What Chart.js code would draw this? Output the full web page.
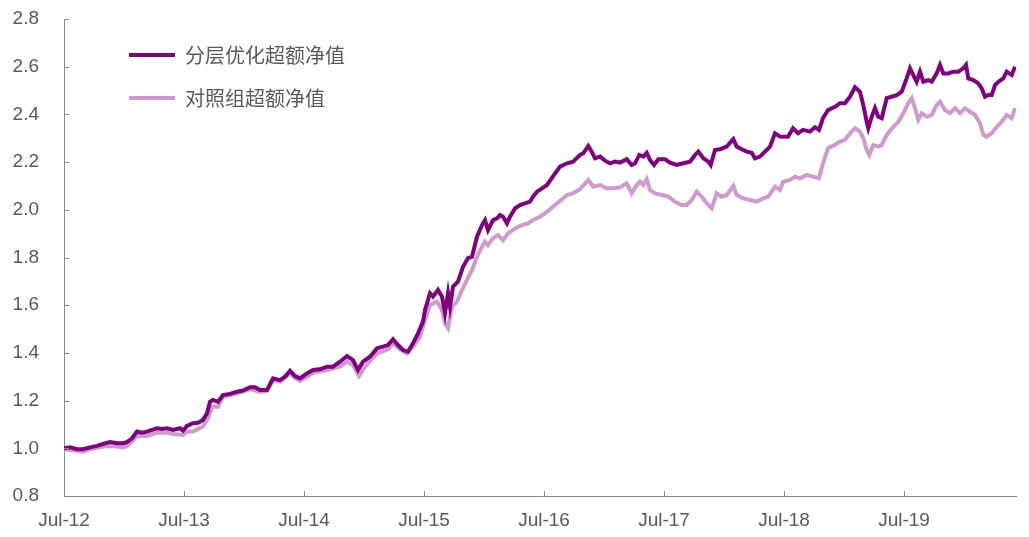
<!DOCTYPE html>
<html>
<head>
<meta charset="utf-8">
<script src="https://cdn.jsdelivr.net/npm/chart.js@4/dist/chart.umd.min.js"></script>
<style>
  html, body { margin: 0; padding: 0; background: #fff; }
  #wrap { width: 1029px; height: 537px; }
</style>
</head>
<body>
<div id="wrap"><canvas id="navChart" width="1029" height="537"></canvas></div>
<script>
// 月份偏移 (0 = 2012年7月), 净值
var seriesNames = ['分层优化超额净值', '对照组超额净值'];
var tickLabels = ['Jul-12', 'Jul-13', 'Jul-14', 'Jul-15', 'Jul-16', 'Jul-17', 'Jul-18', 'Jul-19'];

var darkMonths = [0,0.6,1.3,1.9,2.6,3.3,3.9,4.6,5.3,5.9,6.3,6.8,7.3,7.8,8.3,8.8,9.3,9.8,10.3,10.9,11.6,11.9,12.3,12.9,13.4,13.9,14.3,14.6,14.9,15.4,15.9,16.6,17.3,17.9,18.6,19.1,19.6,20.3,20.9,21.6,22.1,22.6,23.1,23.6,24.3,24.9,25.6,26.3,26.9,27.6,28.3,28.9,29.4,29.9,30.6,31.3,31.9,32.4,32.9,33.4,33.9,34.4,34.9,35.4,35.9,36.1,36.6,36.9,37.4,37.8,38.1,38.4,38.6,38.9,39.4,39.9,40.4,40.8,41.3,41.8,42.1,42.4,42.9,43.3,43.6,43.9,44.3,44.6,45.1,45.6,46.1,46.6,46.9,47.3,47.8,48.3,48.9,49.6,50.3,50.9,
    51.6,51.93,52.43,52.77,53.1,53.6,54.1,54.6,55.1,55.6,56.27,56.77,57.1,57.53,57.93,58.27,58.6,59.0,59.43,60.1,60.6,61.27,61.93,62.6,63.1,63.43,63.93,64.43,64.67,65.1,65.6,66.27,66.93,67.27,67.77,68.27,68.77,69.1,69.6,70.1,70.6,71.1,71.6,
    72.4,72.9,73.4,73.9,74.6,75.1,75.5,75.9,76.4,77.1,77.6,78.1,78.6,79.1,
    79.6,79.93,80.27,80.43,80.77,81.1,81.43,81.77,82.27,82.77,83.27,83.77,84.27,84.6,84.93,85.27,85.6,85.93,86.43,86.77,87.27,87.6,87.93,88.43,88.93,89.43,89.93,90.2,90.43,90.93,91.43,91.77,92.1,92.43,92.77,93.1,93.43,93.93,94.27,94.77,95.1];
var darkValues = [1.000,1.004,0.996,0.996,1.004,1.010,1.018,1.026,1.021,1.021,1.026,1.042,1.070,1.065,1.070,1.077,1.084,1.081,1.084,1.077,1.084,1.074,1.094,1.105,1.107,1.119,1.147,1.195,1.203,1.195,1.223,1.228,1.237,1.242,1.256,1.256,1.244,1.244,1.293,1.286,1.300,1.325,1.303,1.293,1.314,1.328,1.331,1.342,1.342,1.363,1.387,1.370,1.328,1.363,1.384,1.419,1.426,1.433,1.457,1.433,1.412,1.405,1.440,1.482,1.531,1.580,1.650,1.636,1.664,1.636,1.566,1.650,1.594,1.678,1.699,1.761,1.797,1.803,1.887,1.936,1.957,1.915,1.957,1.964,1.978,1.971,1.943,1.971,2.006,2.020,2.027,2.034,2.055,2.076,2.090,2.104,2.140,2.181,2.195,2.202,
    2.230,2.237,2.268,2.244,2.216,2.223,2.206,2.195,2.202,2.198,2.212,2.188,2.195,2.230,2.223,2.239,2.209,2.188,2.212,2.212,2.198,2.188,2.195,2.202,2.230,2.244,2.216,2.202,2.188,2.251,2.254,2.265,2.296,2.265,2.254,2.244,2.239,2.216,2.223,2.244,2.265,2.321,2.307,
    2.306,2.342,2.321,2.335,2.328,2.346,2.335,2.384,2.418,2.432,2.447,2.447,2.474,2.514,
    2.495,2.439,2.369,2.342,2.390,2.426,2.390,2.384,2.468,2.474,2.481,2.495,2.551,2.593,2.565,2.537,2.579,2.537,2.544,2.537,2.572,2.607,2.572,2.572,2.579,2.579,2.593,2.607,2.551,2.544,2.530,2.509,2.474,2.481,2.481,2.523,2.537,2.551,2.579,2.565,2.600];

var lightMonths = [0,0.6,1.3,1.9,2.6,3.3,3.9,4.6,5.3,5.9,6.3,6.8,7.3,8.3,9.3,10.3,10.9,11.9,12.3,12.9,13.9,14.4,14.8,15.4,15.9,17.3,18.6,19.6,20.3,20.9,21.6,22.6,23.1,23.6,24.9,26.3,27.6,28.3,28.9,29.5,30.1,30.6,31.3,32.4,32.9,33.6,34.3,34.9,35.6,36.1,36.6,37.3,37.8,38.1,38.4,38.8,39.3,39.8,40.3,40.8,41.3,41.8,42.1,42.4,42.9,43.4,43.9,44.4,45.1,45.8,46.4,46.9,47.6,48.3,48.9,49.5,50.3,50.9,
    51.6,52.43,52.93,53.6,54.27,54.93,55.6,56.27,56.77,57.27,57.6,57.93,58.27,58.6,59.1,59.77,60.43,61.1,61.77,62.27,62.77,63.27,63.77,64.43,64.77,65.27,65.77,66.27,66.93,67.27,67.93,68.6,69.27,69.93,70.43,71.1,71.6,
    71.9,72.6,73.1,73.6,74.3,74.9,75.5,75.9,76.4,77.1,77.6,78.1,78.6,79.1,
    79.6,79.93,80.27,80.53,80.93,81.43,81.77,82.27,82.93,83.43,83.93,84.43,84.77,85.1,85.43,85.77,86.27,86.77,87.27,87.6,88.1,88.6,89.1,89.6,90.1,90.6,91.1,91.6,91.93,92.27,92.77,93.27,93.77,94.27,94.77,95.1];
var lightValues = [0.996,0.993,0.990,0.986,0.996,1.002,1.007,1.010,1.007,1.004,1.010,1.028,1.052,1.052,1.065,1.065,1.060,1.056,1.070,1.070,1.091,1.126,1.174,1.174,1.216,1.231,1.247,1.237,1.240,1.286,1.280,1.314,1.295,1.283,1.317,1.328,1.342,1.363,1.349,1.303,1.342,1.365,1.398,1.415,1.440,1.415,1.398,1.426,1.468,1.538,1.601,1.615,1.580,1.524,1.504,1.594,1.615,1.664,1.706,1.748,1.803,1.845,1.866,1.852,1.881,1.894,1.873,1.901,1.922,1.936,1.943,1.957,1.971,1.992,2.013,2.034,2.062,2.069,
    2.086,2.125,2.097,2.104,2.090,2.090,2.094,2.111,2.069,2.104,2.118,2.104,2.128,2.083,2.069,2.062,2.055,2.034,2.020,2.020,2.041,2.076,2.055,2.020,2.006,2.069,2.055,2.062,2.100,2.062,2.048,2.041,2.034,2.048,2.055,2.097,2.083,
    2.117,2.125,2.139,2.132,2.146,2.139,2.132,2.195,2.258,2.272,2.286,2.293,2.321,2.342,
    2.327,2.300,2.251,2.230,2.272,2.265,2.272,2.314,2.348,2.369,2.405,2.447,2.468,2.426,2.377,2.405,2.390,2.398,2.439,2.453,2.418,2.405,2.426,2.405,2.426,2.411,2.398,2.363,2.314,2.307,2.321,2.348,2.369,2.398,2.384,2.426];

function toPoints(xs, ys) {
    return xs.map(function (m, i) { return { x: m, y: ys[i] }; });
}

var axisColor = '#898989';
var textColor = '#595959';

// 刻度线朝内画
var innerTicks = {
    id: 'innerTicks',
    afterDraw: function (chart) {
        var c = chart.ctx, xs = chart.scales.x, ys = chart.scales.y;
        var area = chart.chartArea;
        c.save();
        c.strokeStyle = axisColor;
        c.lineWidth = 1;
        c.beginPath();
        ys.ticks.forEach(function (t) {
            var py = Math.round(ys.getPixelForValue(t.value)) + 0.5;
            c.moveTo(area.left, py);
            c.lineTo(area.left + 5, py);
        });
        xs.ticks.forEach(function (t) {
            var px = Math.round(xs.getPixelForValue(t.value)) + 0.5;
            c.moveTo(px, area.bottom);
            c.lineTo(px, area.bottom - 5);
        });
        c.stroke();
        c.restore();
    }
};

// 图例放进绘图区左上角
var legendShift = {
    id: 'legendShift',
    afterLayout: function (chart) {
        chart.legend.left = chart.chartArea.left + 42;
        chart.legend.top = chart.chartArea.top + 3;
    }
};

var ctx = document.getElementById('navChart').getContext('2d');
var navChart = new Chart(ctx, {
    type: 'line',
    data: {
        datasets: [{
            label: seriesNames[0],
            data: toPoints(darkMonths, darkValues),
            borderColor: '#800080',
            backgroundColor: '#800080',
            borderWidth: 4,
            pointRadius: 0,
            tension: 0
        }, {
            label: seriesNames[1],
            data: toPoints(lightMonths, lightValues),
            borderColor: '#cf9bcf',
            backgroundColor: '#cf9bcf',
            borderWidth: 4,
            pointRadius: 0,
            tension: 0
        }]
    },
    options: {
        responsive: false,
        animation: false,
        devicePixelRatio: 1,
        layout: { padding: { top: 19, right: 13, left: 0, bottom: 0 } },
        plugins: {
            tooltip: { enabled: false },
            legend: {
                position: 'chartArea',
                fullSize: false,
                align: 'start',
                labels: {
                    usePointStyle: true,
                    pointStyle: 'line',
                    pointStyleWidth: 46,
                    padding: 23,
                    color: textColor,
                    font: { family: '"Noto Sans CJK SC", sans-serif', size: 20 }
                }
            }
        },
        scales: {
            x: {
                type: 'linear',
                min: 0,
                max: 95.2,
                afterFit: function (s) { s.height = 41; },
                border: { color: axisColor, width: 1 },
                grid: { drawOnChartArea: false, drawTicks: false },
                ticks: {
                    stepSize: 12,
                    includeBounds: false,
                    autoSkip: false,
                    maxRotation: 0,
                    padding: 13,
                    color: textColor,
                    font: { family: '"Liberation Sans", Arial, sans-serif', size: 19 },
                    callback: function (v) { return tickLabels[Math.round(v / 12)]; }
                }
            },
            y: {
                min: 0.8,
                max: 2.8,
                afterFit: function (s) { s.width = 64; },
                border: { color: axisColor, width: 1 },
                grid: { drawOnChartArea: false, drawTicks: true, tickLength: 18, tickColor: 'rgba(0,0,0,0)' },
                ticks: {
                    stepSize: 0.2,
                    padding: 7,
                    color: textColor,
                    font: { family: '"Liberation Sans", Arial, sans-serif', size: 19 },
                    callback: function (v) { return v.toFixed(1); }
                }
            }
        }
    },
    plugins: [innerTicks, legendShift]
});
</script>
</body>
</html>
